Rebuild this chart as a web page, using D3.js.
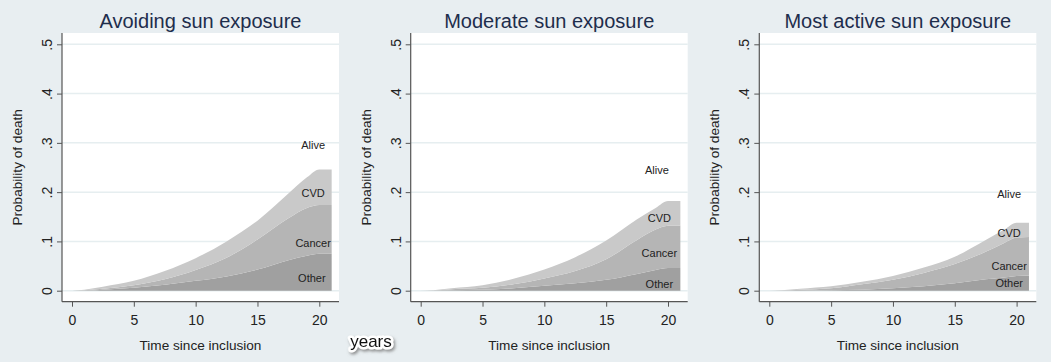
<!DOCTYPE html>
<html>
<head>
<meta charset="utf-8">
<script src="https://cdn.jsdelivr.net/npm/d3@7"></script>
<style>
  html, body { margin: 0; padding: 0; background: #e8eef1; }
  svg { display: block; font-family: "Liberation Sans", Arial, sans-serif; }
</style>
</head>
<body>
<div id="chart"></div>
<script>
const times = [0, 1, 2.5, 5, 7.5, 10, 12.5, 15, 17.5, 19, 20, 21];
const causes = ["Other", "Cancer", "CVD"];
const panelTitles = ["Avoiding sun exposure", "Moderate sun exposure", "Most active sun exposure"];

// cumulative incidence contributed by each cause (stacked: Other, Cancer, CVD)
const avoidOther  = [0, 0, 0.002, 0.006, 0.012, 0.020, 0.029, 0.043, 0.062, 0.071, 0.075, 0.075];
const avoidCancer = [0, 0.001, 0.002, 0.005, 0.011, 0.022, 0.038, 0.061, 0.085, 0.097, 0.099, 0.099];
const avoidCVD    = [0, 0.001, 0.004, 0.009, 0.017, 0.024, 0.033, 0.038, 0.050, 0.062, 0.072, 0.072];

const modOther  = [0, 0, 0.001, 0.002, 0.005, 0.010, 0.015, 0.022, 0.034, 0.042, 0.046, 0.046];
const modCancer = [0, 0.0005, 0.002, 0.004, 0.008, 0.015, 0.025, 0.042, 0.069, 0.082, 0.086, 0.086];
const modCVD    = [0, 0.0005, 0.002, 0.005, 0.011, 0.018, 0.028, 0.038, 0.042, 0.044, 0.050, 0.050];

const activeOther  = [0, 0, 0, 0.001, 0.002, 0.005, 0.009, 0.015, 0.023, 0.027, 0.030, 0.031];
const activeCancer = [0, 0.0005, 0.002, 0.004, 0.011, 0.017, 0.027, 0.039, 0.056, 0.070, 0.078, 0.078];
const activeCVD    = [0, 0.0005, 0.002, 0.004, 0.005, 0.008, 0.011, 0.015, 0.024, 0.027, 0.030, 0.029];

// label anchor positions [time, probability] for Alive, CVD, Cancer, Other
const labelNames = ["Alive", "CVD", "Cancer", "Other"];
const avoidLabels  = [[19.5, 0.296], [19.5, 0.198], [19.5, 0.097], [19.4, 0.026]];
const modLabels    = [[19.1, 0.245], [19.3, 0.147], [19.3, 0.076], [19.3, 0.014]];
const activeLabels = [[19.4, 0.196], [19.4, 0.116], [19.4, 0.049], [19.4, 0.016]];

const xTicks = [0, 5, 10, 15, 20];
const yTicks = [0, 0.1, 0.2, 0.3, 0.4, 0.5];
const yTickLabels = ["0", ".1", ".2", ".3", ".4", ".5"];

const panels = [
  { title: panelTitles[0], series: [avoidOther, avoidCancer, avoidCVD], labels: avoidLabels },
  { title: panelTitles[1], series: [modOther, modCancer, modCVD], labels: modLabels },
  { title: panelTitles[2], series: [activeOther, activeCancer, activeCVD], labels: activeLabels },
];

const W = 1051, H = 362;
const panelLeft = [62, 410.7, 759.3];
const plotW = 277;
const plotTop = 33, axisY = 301.7;
const fills = { Other: "#a0a0a0", Cancer: "#b5b5b5", CVD: "#c9c9c9" };

const svg = d3.select("#chart").append("svg")
  .attr("width", W).attr("height", H);

svg.append("defs").append("filter").attr("id", "shadow")
  .attr("x", "-20%").attr("y", "-40%").attr("width", "150%").attr("height", "200%")
  .append("feDropShadow")
  .attr("dx", 1.5).attr("dy", 2).attr("stdDeviation", 1.5)
  .attr("flood-color", "#777").attr("flood-opacity", 0.8);

panels.forEach((p, i) => {
  const left = panelLeft[i];
  const x = d3.scaleLinear().domain([0, 20]).range([left + 10, left + 257.3]);
  const y = d3.scaleLinear().domain([0, 0.5]).range([290.7, 44.3]);
  const g = svg.append("g");

  g.append("rect")
    .attr("x", left).attr("y", plotTop)
    .attr("width", plotW).attr("height", axisY - plotTop)
    .attr("fill", "white");

  // gridlines
  g.append("g").selectAll("line").data(yTicks).join("line")
    .attr("x1", left).attr("x2", left + plotW)
    .attr("y1", d => y(d)).attr("y2", d => y(d))
    .attr("stroke", "#e6eef0").attr("stroke-width", 1.5);

  const rows = times.map((t, k) => {
    const r = { t };
    causes.forEach((c, j) => { r[c] = p.series[j][k]; });
    return r;
  });
  const stacked = d3.stack().keys(causes)(rows);
  const area = d3.area()
    .x(d => x(d.data.t))
    .y0(d => y(d[0]))
    .y1(d => y(d[1]))
    .curve(d3.curveMonotoneX);

  g.append("g").selectAll("path").data(stacked).join("path")
    .attr("d", area)
    .attr("fill", d => fills[d.key]);

  // region labels
  g.append("g").selectAll("text").data(p.labels).join("text")
    .attr("x", d => x(d[0]))
    .attr("y", d => y(d[1]))
    .attr("dy", "0.35em")
    .attr("text-anchor", "middle")
    .attr("font-size", "11px")
    .attr("fill", "#222")
    .text((d, j) => labelNames[j]);

  // axes
  const xAxis = g.append("g")
    .attr("transform", `translate(0,${axisY})`)
    .call(d3.axisBottom(x).tickValues(xTicks).tickSize(5).tickPadding(8).tickSizeOuter(0));
  xAxis.select(".domain").remove();
  xAxis.append("line")
    .attr("x1", left).attr("x2", left + plotW)
    .attr("stroke", "#555").attr("stroke-width", 1.2);
  xAxis.selectAll(".tick line").attr("stroke", "#555");
  xAxis.selectAll(".tick text")
    .attr("font-size", "14px").attr("fill", "#222")
    .attr("font-family", "Liberation Sans, Arial, sans-serif");

  const yAxis = g.append("g")
    .attr("transform", `translate(${left},0)`)
    .call(d3.axisLeft(y).tickValues(yTicks).tickSize(5).tickSizeOuter(0)
      .tickFormat((d, j) => yTickLabels[j]));
  yAxis.select(".domain").remove();
  yAxis.append("line")
    .attr("y1", plotTop).attr("y2", axisY)
    .attr("stroke", "#555").attr("stroke-width", 1.2);
  yAxis.selectAll(".tick line").attr("stroke", "#555");
  yAxis.selectAll(".tick text")
    .attr("font-size", "14px").attr("fill", "#222")
    .attr("font-family", "Liberation Sans, Arial, sans-serif")
    .attr("text-anchor", "middle")
    .attr("x", 0)
    .attr("transform", "translate(-15,0) rotate(-90)")
    .attr("dy", "0.35em");

  // axis titles
  g.append("text")
    .attr("x", left + plotW / 2).attr("y", 350)
    .attr("text-anchor", "middle")
    .attr("font-size", "13.6px").attr("fill", "#222")
    .text("Time since inclusion");

  g.append("text")
    .attr("transform", `translate(${left - 40},${(plotTop + axisY) / 2}) rotate(-90)`)
    .attr("text-anchor", "middle")
    .attr("font-size", "13.6px").attr("fill", "#222")
    .text("Probability of death");

  g.append("text")
    .attr("x", left + plotW / 2).attr("y", 28)
    .attr("text-anchor", "middle")
    .attr("font-size", "20px").attr("fill", "#1e2d4c")
    .text(p.title);
});

// annotation overlay
svg.append("text")
  .attr("x", 371).attr("y", 347)
  .attr("text-anchor", "middle")
  .attr("font-size", "17px").attr("fill", "#111")
  .attr("stroke", "white").attr("stroke-width", 5)
  .attr("stroke-linejoin", "round")
  .attr("paint-order", "stroke")
  .attr("filter", "url(#shadow)")
  .text("years");
</script>
</body>
</html>
